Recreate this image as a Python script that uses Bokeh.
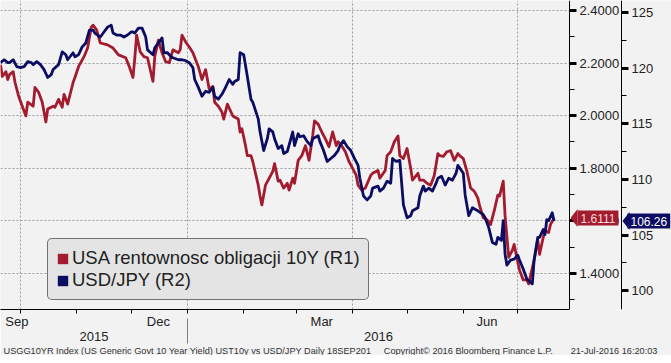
import pandas as pd
from bokeh.plotting import figure
from bokeh.models import (Range1d, LinearAxis, FixedTicker, NumeralTickFormatter,
                          Label, Legend, LegendItem, PolyAnnotation, BoxAnnotation, Title)
from bokeh.embed import file_html
from bokeh.resources import INLINE

# ---------------- data ----------------
ust_dates = [
    "2015-09-20", "2015-09-21", "2015-09-23", "2015-09-24", "2015-09-25", "2015-09-27", "2015-09-28", "2015-09-30",
    "2015-10-02", "2015-10-04", "2015-10-05", "2015-10-08", "2015-10-09", "2015-10-11", "2015-10-13", "2015-10-15",
    "2015-10-16", "2015-10-19", "2015-10-20", "2015-10-22", "2015-10-24", "2015-10-25", "2015-10-27", "2015-10-30",
    "2015-10-31", "2015-11-02", "2015-11-05", "2015-11-07", "2015-11-09", "2015-11-10", "2015-11-12", "2015-11-14",
    "2015-11-18", "2015-11-21", "2015-11-24", "2015-11-28", "2015-11-30", "2015-12-02", "2015-12-03", "2015-12-04",
    "2015-12-06", "2015-12-08", "2015-12-10", "2015-12-13", "2015-12-14", "2015-12-16", "2015-12-18", "2015-12-20",
    "2015-12-22", "2015-12-24", "2015-12-27", "2015-12-28", "2015-12-29", "2015-12-31", "2016-01-02", "2016-01-04",
    "2016-01-07", "2016-01-09", "2016-01-11", "2016-01-13", "2016-01-15", "2016-01-16", "2016-01-18", "2016-01-20",
    "2016-01-21", "2016-01-23", "2016-01-25", "2016-01-26", "2016-01-29", "2016-01-30", "2016-01-31", "2016-02-02",
    "2016-02-03", "2016-02-05", "2016-02-06", "2016-02-09", "2016-02-10", "2016-02-11", "2016-02-13", "2016-02-15",
    "2016-02-17", "2016-02-18", "2016-02-20", "2016-02-21", "2016-02-23", "2016-02-25", "2016-02-26", "2016-02-28",
    "2016-02-29", "2016-03-02", "2016-03-04", "2016-03-06", "2016-03-08", "2016-03-10", "2016-03-11", "2016-03-13",
    "2016-03-15", "2016-03-17", "2016-03-19", "2016-03-21", "2016-03-23", "2016-03-24", "2016-03-26", "2016-03-28",
    "2016-03-30", "2016-04-01", "2016-04-03", "2016-04-04", "2016-04-06", "2016-04-08", "2016-04-11", "2016-04-12",
    "2016-04-15", "2016-04-16", "2016-04-19", "2016-04-20", "2016-04-22", "2016-04-24", "2016-04-26", "2016-04-27",
    "2016-04-29", "2016-05-01", "2016-05-03", "2016-05-04", "2016-05-07", "2016-05-08", "2016-05-10", "2016-05-12",
    "2016-05-14", "2016-05-16", "2016-05-18", "2016-05-19", "2016-05-21", "2016-05-23", "2016-05-25", "2016-05-27",
    "2016-05-29", "2016-05-30", "2016-06-01", "2016-06-03", "2016-06-05", "2016-06-07", "2016-06-09", "2016-06-10",
    "2016-06-12", "2016-06-14", "2016-06-16", "2016-06-18", "2016-06-20", "2016-06-21", "2016-06-23", "2016-06-24",
    "2016-06-26", "2016-06-28", "2016-06-29", "2016-07-01", "2016-07-02", "2016-07-04", "2016-07-06", "2016-07-07",
    "2016-07-10", "2016-07-12", "2016-07-13", "2016-07-15", "2016-07-16", "2016-07-18", "2016-07-19", "2016-07-21",
]
ust_values = [
    2.194, 2.149, 2.167, 2.137, 2.156, 2.167, 2.126, 2.074,
    2.036, 1.999, 2.051, 2.036, 2.107, 2.089, 2.051, 1.976,
    2.025, 2.036, 2.032, 2.062, 2.032, 2.081, 2.044, 2.126,
    2.145, 2.186, 2.224, 2.257, 2.336, 2.344, 2.325, 2.276,
    2.269, 2.257, 2.231, 2.220, 2.186, 2.145, 2.220, 2.306,
    2.242, 2.224, 2.220, 2.130, 2.224, 2.287, 2.239, 2.205,
    2.201, 2.250, 2.239, 2.250, 2.306, 2.280, 2.261, 2.239,
    2.186, 2.137, 2.175, 2.100, 2.111, 2.051, 2.036, 2.014,
    1.987, 2.044, 2.014, 1.999, 1.987, 1.938, 1.950, 1.886,
    1.848, 1.848, 1.826, 1.736, 1.695, 1.661, 1.736, 1.762,
    1.788, 1.818, 1.751, 1.755, 1.725, 1.743, 1.717, 1.762,
    1.743, 1.830, 1.848, 1.886, 1.830, 1.923, 1.980, 1.968,
    1.938, 1.912, 1.882, 1.938, 1.886, 1.901, 1.886, 1.863,
    1.826, 1.800, 1.773, 1.736, 1.717, 1.725, 1.773, 1.781,
    1.792, 1.762, 1.792, 1.848, 1.863, 1.901, 1.923, 1.848,
    1.837, 1.875, 1.800, 1.755, 1.781, 1.755, 1.755, 1.743,
    1.736, 1.773, 1.856, 1.848, 1.845, 1.863, 1.867, 1.830,
    1.856, 1.848, 1.837, 1.788, 1.725, 1.713, 1.687, 1.657,
    1.612, 1.605, 1.586, 1.638, 1.698, 1.695, 1.751, 1.620,
    1.462, 1.488, 1.511, 1.443, 1.413, 1.376, 1.376, 1.361,
    1.451, 1.529, 1.473, 1.537, 1.563, 1.556, 1.586, 1.6111,
]

jpy_dates = [
    "2015-09-20", "2015-09-22", "2015-09-24", "2015-09-25", "2015-09-27", "2015-09-29", "2015-10-01", "2015-10-03",
    "2015-10-05", "2015-10-07", "2015-10-08", "2015-10-10", "2015-10-12", "2015-10-14", "2015-10-16", "2015-10-18",
    "2015-10-19", "2015-10-22", "2015-10-24", "2015-10-26", "2015-10-27", "2015-10-30", "2015-10-31", "2015-11-02",
    "2015-11-04", "2015-11-06", "2015-11-08", "2015-11-10", "2015-11-11", "2015-11-14", "2015-11-16", "2015-11-18",
    "2015-11-20", "2015-11-21", "2015-11-23", "2015-11-25", "2015-11-27", "2015-11-29", "2015-12-01", "2015-12-02",
    "2015-12-03", "2015-12-05", "2015-12-07", "2015-12-09", "2015-12-10", "2015-12-13", "2015-12-14", "2015-12-16",
    "2015-12-18", "2015-12-19", "2015-12-21", "2015-12-23", "2015-12-24", "2015-12-27", "2015-12-29", "2015-12-31",
    "2016-01-02", "2016-01-04", "2016-01-05", "2016-01-07", "2016-01-09", "2016-01-11", "2016-01-13", "2016-01-15",
    "2016-01-16", "2016-01-18", "2016-01-20", "2016-01-22", "2016-01-24", "2016-01-26", "2016-01-27", "2016-01-29",
    "2016-01-30", "2016-02-01", "2016-02-03", "2016-02-05", "2016-02-06", "2016-02-09", "2016-02-10", "2016-02-12",
    "2016-02-14", "2016-02-15", "2016-02-17", "2016-02-18", "2016-02-20", "2016-02-22", "2016-02-23", "2016-02-25",
    "2016-02-27", "2016-02-28", "2016-02-29", "2016-03-02", "2016-03-03", "2016-03-05", "2016-03-07", "2016-03-09",
    "2016-03-10", "2016-03-13", "2016-03-14", "2016-03-16", "2016-03-18", "2016-03-20", "2016-03-22", "2016-03-24",
    "2016-03-25", "2016-03-27", "2016-03-29", "2016-03-31", "2016-04-02", "2016-04-04", "2016-04-05", "2016-04-07",
    "2016-04-09", "2016-04-11", "2016-04-12", "2016-04-15", "2016-04-16", "2016-04-18", "2016-04-20", "2016-04-22",
    "2016-04-23", "2016-04-25", "2016-04-27", "2016-04-29", "2016-05-01", "2016-05-03", "2016-05-04", "2016-05-07",
    "2016-05-08", "2016-05-10", "2016-05-11", "2016-05-13", "2016-05-15", "2016-05-17", "2016-05-18", "2016-05-20",
    "2016-05-22", "2016-05-24", "2016-05-26", "2016-05-28", "2016-05-29", "2016-06-01", "2016-06-02", "2016-06-04",
    "2016-06-06", "2016-06-08", "2016-06-09", "2016-06-12", "2016-06-13", "2016-06-15", "2016-06-17", "2016-06-19",
    "2016-06-20", "2016-06-22", "2016-06-23", "2016-06-24", "2016-06-25", "2016-06-27", "2016-06-29", "2016-07-01",
    "2016-07-02", "2016-07-04", "2016-07-06", "2016-07-09", "2016-07-10", "2016-07-12", "2016-07-13", "2016-07-15",
    "2016-07-16", "2016-07-17", "2016-07-18", "2016-07-20", "2016-07-21",
]
jpy_values = [
    120.48, 120.74, 120.48, 120.48, 120.74, 120.12, 120.04, 120.12,
    120.57, 120.48, 120.30, 120.57, 120.30, 119.86, 119.15, 119.41,
    119.86, 120.30, 121.45, 121.19, 120.74, 121.37, 121.01, 121.19,
    121.90, 122.25, 123.40, 123.40, 123.14, 122.78, 123.23, 123.67,
    123.85, 123.14, 122.96, 122.96, 122.78, 122.96, 123.23, 123.23,
    123.14, 123.58, 123.58, 122.78, 121.63, 121.19, 121.81, 122.25,
    122.70, 121.37, 121.37, 121.01, 120.92, 120.74, 120.74, 120.66,
    120.48, 120.04, 118.97, 118.26, 117.46, 117.91, 117.82, 118.26,
    117.46, 117.20, 117.64, 118.26, 118.97, 118.53, 118.79, 118.97,
    121.37, 121.19, 119.24, 117.20, 116.93, 115.43, 114.27, 112.59,
    113.65, 114.54, 114.27, 113.65, 112.77, 113.03, 112.32, 112.50,
    113.65, 114.27, 113.03, 114.10, 113.83, 113.92, 113.39, 113.03,
    113.65, 113.92, 113.39, 112.59, 111.61, 111.88, 112.15, 112.59,
    113.03, 113.48, 112.94, 112.59, 111.88, 111.26, 110.11, 108.51,
    108.16, 108.51, 109.22, 109.40, 108.95, 109.22, 109.84, 109.66,
    111.88, 111.61, 111.70, 107.71, 106.56, 106.74, 107.18, 107.45,
    108.51, 109.40, 108.95, 109.22, 108.95, 109.66, 110.11, 110.28,
    109.49, 110.11, 109.93, 110.55, 111.26, 110.55, 108.60, 106.74,
    107.45, 107.27, 107.18, 106.83, 106.56, 105.67, 104.34, 104.17,
    104.79, 104.52, 106.30, 103.28, 102.31, 102.75, 102.84, 103.19,
    102.75, 101.95, 101.06, 100.62, 102.75, 104.79, 104.79, 105.50,
    105.05, 106.38, 106.30, 107.00, 106.26,
]

series_labels = ["USA rentownosc obligacji 10Y (R1)", "USD/JPY (R2)"]

x_start = "2015-09-20"
x_end = "2016-07-29"
month_label_dates = ["2015-09-29", "2015-12-16", "2016-03-15", "2016-06-14"]
month_labels = ["Sep", "Dec", "Mar", "Jun"]
month_start_dates = ["2015-10-01", "2015-11-01", "2015-12-01", "2016-01-01", "2016-02-01",
                     "2016-03-01", "2016-04-01", "2016-05-01", "2016-06-01", "2016-07-01"]
quarter_dates = ["2015-10-01", "2016-01-01", "2016-04-01", "2016-07-01"]
year_break = "2016-01-01"
year_labels = ["2015", "2016"]

r1_range = (1.2636, 2.4375)
r1_ticks = [1.4, 1.6, 1.8, 2.0, 2.2, 2.4]
r1_minor = [1.3, 1.5, 1.7, 1.9, 2.1, 2.3]
r2_range = (98.32, 126.06)
r2_ticks = [100, 105, 110, 115, 120, 125]
r2_minor = [102.5, 107.5, 112.5, 117.5, 122.5]

footer_parts = ["USGG10YR Index (US Generic Govt 10 Year Yield) UST10y vs USD/JPY  Daily 18SEP201",
                "Copyright\u00a9 2016 Bloomberg Finance L.P.",
                "21-Jul-2016 16:20:03"]

# ---------------- styling / layout ----------------
BG = "#f2f2f2"
RED = "#a31b2f"
NAVY = "#0c0c62"
FONT = "Liberation Sans"
W, H = 671, 355
BOTTOM = 46
FH = H - BOTTOM
DATA_W = 569          # pixels of the frame used by the time axis
AX_GAP = 52           # pixels between the two right-hand axes

ORIGIN = pd.Timestamp("2015-10-01")


def day(s):
    return int((pd.Timestamp(s) - ORIGIN).days)


ust_x = [day(d) for d in ust_dates]
jpy_x = [day(d) for d in jpy_dates]
x0 = day(x_start)
x1 = day(x_end) + 0.5
per_px = (x1 - x0) / DATA_W
x_frame_end = x0 + W * per_px
x_r2 = x1 + AX_GAP * per_px

p = figure(width=W, height=H, x_range=Range1d(x0, x_frame_end), y_range=Range1d(*r1_range),
           y_axis_location=None, output_backend="svg", toolbar_location=None,
           min_border_left=0, min_border_top=0, min_border_right=0, min_border_bottom=BOTTOM,
           background_fill_color=BG, border_fill_color=BG, outline_line_color=None)
p.extra_y_ranges = {"r2": Range1d(*r2_range)}

# grids
p.xgrid.ticker = FixedTicker(ticks=[day(d) for d in quarter_dates])
p.ygrid.ticker = FixedTicker(ticks=r1_ticks)
for g in (p.xgrid, p.ygrid):
    g.grid_line_color = "#9c9c9c"
    g.grid_line_dash = "2 2"
    g.grid_line_width = 1
# keep the right-hand axis strip free of grid lines
p.add_layout(BoxAnnotation(left=x1, fill_color=BG, fill_alpha=1.0, line_color=None, level="underlay"))

# x axis (month labels + month boundary ticks)
xa = p.xaxis[0]
xa.bounds = (x0, x1)
xa.ticker = FixedTicker(ticks=[day(d) for d in month_label_dates],
                        minor_ticks=[day(d) for d in month_start_dates])
xa.major_label_overrides = {day(d): lab for d, lab in zip(month_label_dates, month_labels)}
xa.major_tick_line_color = None
xa.major_tick_out = 0
xa.major_tick_in = 0
xa.minor_tick_out = 4
xa.minor_tick_in = 0
xa.minor_tick_line_color = "black"
xa.axis_line_color = "black"
xa.major_label_standoff = 0
xa.major_label_text_font = FONT
xa.major_label_text_font_size = "13px"
xa.major_label_text_color = "#222222"

# year axis
jan = day(year_break)
year_pos = [(x0 + jan) / 2, (jan + x1) / 2]
ya = LinearAxis(ticker=FixedTicker(ticks=year_pos),
                major_label_overrides={v: t for v, t in zip(year_pos, year_labels)},
                axis_line_color=None, major_tick_line_color=None, minor_tick_line_color=None,
                major_tick_out=0, major_tick_in=0, minor_tick_out=0, minor_tick_in=0,
                major_label_standoff=0,
                major_label_text_font=FONT, major_label_text_font_size="13px",
                major_label_text_color="#222222")
p.add_layout(ya, "below")

# year separator (minor tick drawn upward through the year row)
sep = LinearAxis(ticker=FixedTicker(ticks=[], minor_ticks=[jan]),
                 axis_line_color=None, major_tick_line_color=None,
                 major_tick_out=0, major_tick_in=0, minor_tick_out=0, minor_tick_in=25,
                 minor_tick_line_color="#808080", major_label_standoff=0,
                 major_label_text_font_size="1px")
p.add_layout(sep, "below")

# right axes, fixed at the end of the time axis
r1 = LinearAxis(fixed_location=x1, ticker=FixedTicker(ticks=r1_ticks, minor_ticks=r1_minor),
                formatter=NumeralTickFormatter(format="0.0000"))
r2 = LinearAxis(fixed_location=x_r2, y_range_name="r2",
                ticker=FixedTicker(ticks=r2_ticks, minor_ticks=r2_minor))
for ax in (r1, r2):
    ax.axis_line_color = "black"
    ax.major_tick_out = 7
    ax.major_tick_in = 0
    ax.major_tick_line_width = 3
    ax.major_tick_line_color = "black"
    ax.minor_tick_out = 5
    ax.minor_tick_in = 0
    ax.minor_tick_line_color = "black"
    ax.major_label_standoff = 3
    ax.major_label_text_font = FONT
    ax.major_label_text_font_size = "13px"
    ax.major_label_text_color = "#222222"
    p.add_layout(ax, "right")

# series
p.line(ust_x, ust_values, line_color=RED, line_width=2.8, line_join="round")
p.line(jpy_x, jpy_values, line_color=NAVY, line_width=2.8, line_join="round", y_range_name="r2")

# legend with square swatches (renderers hold no visible data)
nan = float("nan")
sq_red = p.quad(left=[nan], right=[nan], top=[nan], bottom=[nan], fill_color=RED, line_color=None)
sq_navy = p.quad(left=[nan], right=[nan], top=[nan], bottom=[nan], fill_color=NAVY, line_color=None)
legend = Legend(items=[LegendItem(label=series_labels[0], renderers=[sq_red]),
                       LegendItem(label=series_labels[1], renderers=[sq_navy])],
                location=(47, 9), orientation="vertical",
                label_text_font=FONT, label_text_font_size="18.5px", label_text_color="#222222",
                glyph_width=13, glyph_height=13, label_standoff=3, label_height=18,
                spacing=0, padding=8, margin=0,
                background_fill_color="#e4e4e4", background_fill_alpha=1.0,
                border_line_color="black", border_line_width=1)
if "border_radius" in Legend.properties():
    legend.border_radius = 5
p.add_layout(legend)

# last-value tags (arrow tip + box)
last1 = ust_values[-1]
last2 = jpy_values[-1]
span1 = r1_range[1] - r1_range[0]
span2 = r2_range[1] - r2_range[0]
y2_in_r1 = r1_range[0] + (last2 - r2_range[0]) / span2 * span1
dh = 9.0 * span1 / FH
for (yv, tip, col) in ((last1, DATA_W + 1, RED), (y2_in_r1, DATA_W + AX_GAP + 1, NAVY)):
    p.add_layout(PolyAnnotation(xs=[tip, tip + 7, tip + 7], ys=[yv, yv + dh, yv - dh],
                                xs_units="screen", ys_units="data",
                                fill_color=col, fill_alpha=1.0, line_color=None))

tag_kw = dict(x_units="screen", y_units="data", text_baseline="middle", text_align="left",
              text_font=FONT, text_font_size="12px", background_fill_alpha=1.0)
if "padding" in Label.properties():
    tag_kw["padding"] = 3
p.add_layout(Label(x=DATA_W + 8, y=last1, text=f"{last1:.4f}", text_color="#f6dcdc",
                   background_fill_color=RED, **tag_kw))
p.add_layout(Label(x=DATA_W + AX_GAP + 6, y=last2, y_range_name="r2", text=f"{last2:.2f}",
                   text_color="white", background_fill_color=NAVY, **tag_kw))

# footer
gap1 = "\u00a0" * 5
gap2 = "\u00a0" * 7
footer = Title(text=footer_parts[0] + gap1 + footer_parts[1] + gap2 + footer_parts[2],
               align="left", text_font=FONT, text_font_size="9.2px", text_font_style="normal",
               text_color="#333333", offset=3, standoff=0)
p.add_layout(footer, "below")

open("out.html", "w").write(file_html(p, INLINE))
